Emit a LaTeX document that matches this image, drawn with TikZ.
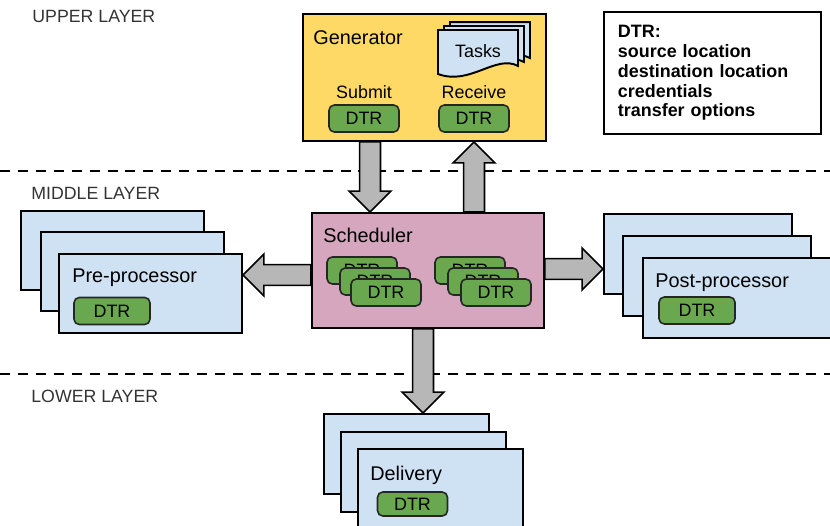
\documentclass[tikz,border=0pt]{standalone}
\usepackage{fontspec}
\setmainfont{Liberation Sans}
\usepackage{tikz}
\usetikzlibrary{calc}

\definecolor{genyellow}{HTML}{FFD966}
\definecolor{schedpink}{HTML}{D5A6BD}
\definecolor{procblue}{HTML}{CFE2F3}
\definecolor{dtrgreen}{HTML}{6AA84F}
\definecolor{arrowgray}{HTML}{B7B7B7}

% block arrow between two anchors
\newcommand{\bigarrow}[2]{%
  \draw[bigarrow] let \p1=#1, \p2=#2, \p3=($(\p2)!11.9pt!(\p1)$) in
    ($(\p1)!5.95pt!90:(\p2)$) -- ($(\p3)!5.95pt!90:(\p2)$)
    -- ($(\p3)!11.9pt!90:(\p2)$) -- (\p2)
    -- ($(\p3)!11.9pt!-90:(\p2)$) -- ($(\p3)!5.95pt!-90:(\p2)$)
    -- ($(\p1)!5.95pt!-90:(\p2)$) -- cycle;}

\begin{document}
\begin{tikzpicture}[x=0.02cm, y=-0.02cm,
  box/.style={draw=black, line width=1.1pt, anchor=north west, inner sep=0},
  dtr/.style={draw=black!85, fill=dtrgreen, rounded corners=3pt, line width=0.9pt,
    minimum width=1.4cm, minimum height=0.54cm, inner sep=0,
    font=\fontsize{10.2}{12}\selectfont},
  lbl/.style={inner sep=0, anchor=base west, font=\fontsize{11.3}{13.5}\selectfont},
  small/.style={inner sep=0, anchor=base, font=\fontsize{10.2}{12}\selectfont},
  layer/.style={inner sep=0, anchor=base west, text=black!80, font=\fontsize{10.1}{12}\selectfont},
  layerline/.style={line width=1.1pt, dash pattern=on 5.7pt off 4.5pt},
  page/.style={draw=black, line width=1.1pt, fill=procblue},
  bigarrow/.style={draw=black, line width=0.9pt, fill=arrowgray, line join=miter}]

\useasboundingbox (0,0) rectangle (830,526);

% layers
\node[layer] (upper) at (32,23) {UPPER LAYER};
\node[layer] (middle) at (31,200) {MIDDLE LAYER};
\node[layer] (lower) at (31,402) {LOWER LAYER};
\draw[layerline] (0,171) -- (830,171);
\draw[layerline] (0,374) -- (830,374);

% upper layer
\node[box, fill=genyellow, minimum width=4.86cm, minimum height=2.54cm] (gen) at (302,13) {};
\node[lbl] (gentext) at (313,45) {Generator};
\foreach \s in {12,6,0}
  \draw[page, shift={(438+\s,30-0.66*\s)}] (0,0) -- (80,0) -- (80,36)
    .. controls (58,24) and (32,56) .. (0,44) -- cycle;
\node[small] (tasks) at (478,58) {Tasks};
\node[small] (submit) at (364,99) {Submit};
\node[small] (receive) at (474,99) {Receive};
\node[dtr] (subdtr) at (364,118.5) {DTR};
\node[dtr] (recdtr) at (474,118.5) {DTR};

\node[box, align=left, font=\bfseries\fontsize{10.2}{11.3}\selectfont,
  minimum width=4.34cm, minimum height=2.44cm, text width=3.78cm, inner xsep=0.28cm]
  (legend) at (603,11) {DTR:\\source location\\destination location\\credentials\\transfer options};

% middle layer
\node[box, fill=schedpink, minimum width=4.64cm, minimum height=2.3cm] (sched) at (311,212) {};
\node[lbl] (schedtext) at (323,243) {Scheduler};
\node[dtr] (sa1) at (362,270.5) {DTR};
\node[dtr] (sa2) at (375,281.5) {DTR};
\node[dtr] (sa3) at (386,292.5) {DTR};
\node[dtr] (sb1) at (470,270.5) {DTR};
\node[dtr] (sb2) at (483,281.5) {DTR};
\node[dtr] (sb3) at (496,292.5) {DTR};

\node[box, fill=procblue, minimum width=3.66cm, minimum height=1.58cm] (pre3) at (20,210) {};
\node[box, fill=procblue, minimum width=3.66cm, minimum height=1.58cm] (pre2) at (40,231) {};
\node[box, fill=procblue, minimum width=3.66cm, minimum height=1.58cm] (pre) at (58,253) {};
\node[lbl] (pretext) at (72,283) {Pre-processor};
\node[dtr, minimum width=1.52cm] (predtr) at (112,311) {DTR};

\node[box, fill=procblue, minimum width=3.76cm, minimum height=1.6cm] (post3) at (603,213) {};
\node[box, fill=procblue, minimum width=3.76cm, minimum height=1.6cm] (post2) at (622,235) {};
\node[box, fill=procblue, minimum width=3.76cm, minimum height=1.6cm] (post) at (642,257) {};
\node[lbl] (posttext) at (655,288) {Post-processor};
\node[dtr, minimum width=1.52cm] (postdtr) at (697,310.5) {DTR};

% lower layer
\node[box, fill=procblue, minimum width=3.3cm, minimum height=1.6cm] (del3) at (323,413) {};
\node[box, fill=procblue, minimum width=3.3cm, minimum height=1.6cm] (del2) at (340,431) {};
\node[box, fill=procblue, minimum width=3.3cm, minimum height=1.6cm] (del) at (357,448) {};
\node[lbl] (deltext) at (370,480) {Delivery};
\node[dtr, minimum height=0.48cm] (deldtr) at (412.5,504) {DTR};

% arrows
\bigarrow{($(gen.south west)+(68,0)$)}{($(sched.north west)+(59,0)$)}
\bigarrow{($(sched.north west)+(163,0)$)}{($(gen.south west)+(172,0)$)}
\bigarrow{($(sched.north west)+(0,63)$)}{($(pre.north east)+(0,22)$)}
\bigarrow{($(sched.north east)+(0,57)$)}{($(post3.north west)+(0,56)$)}
\bigarrow{($(sched.south west)+(112,0)$)}{($(del3.north west)+(100,0)$)}
\end{tikzpicture}
\end{document}
